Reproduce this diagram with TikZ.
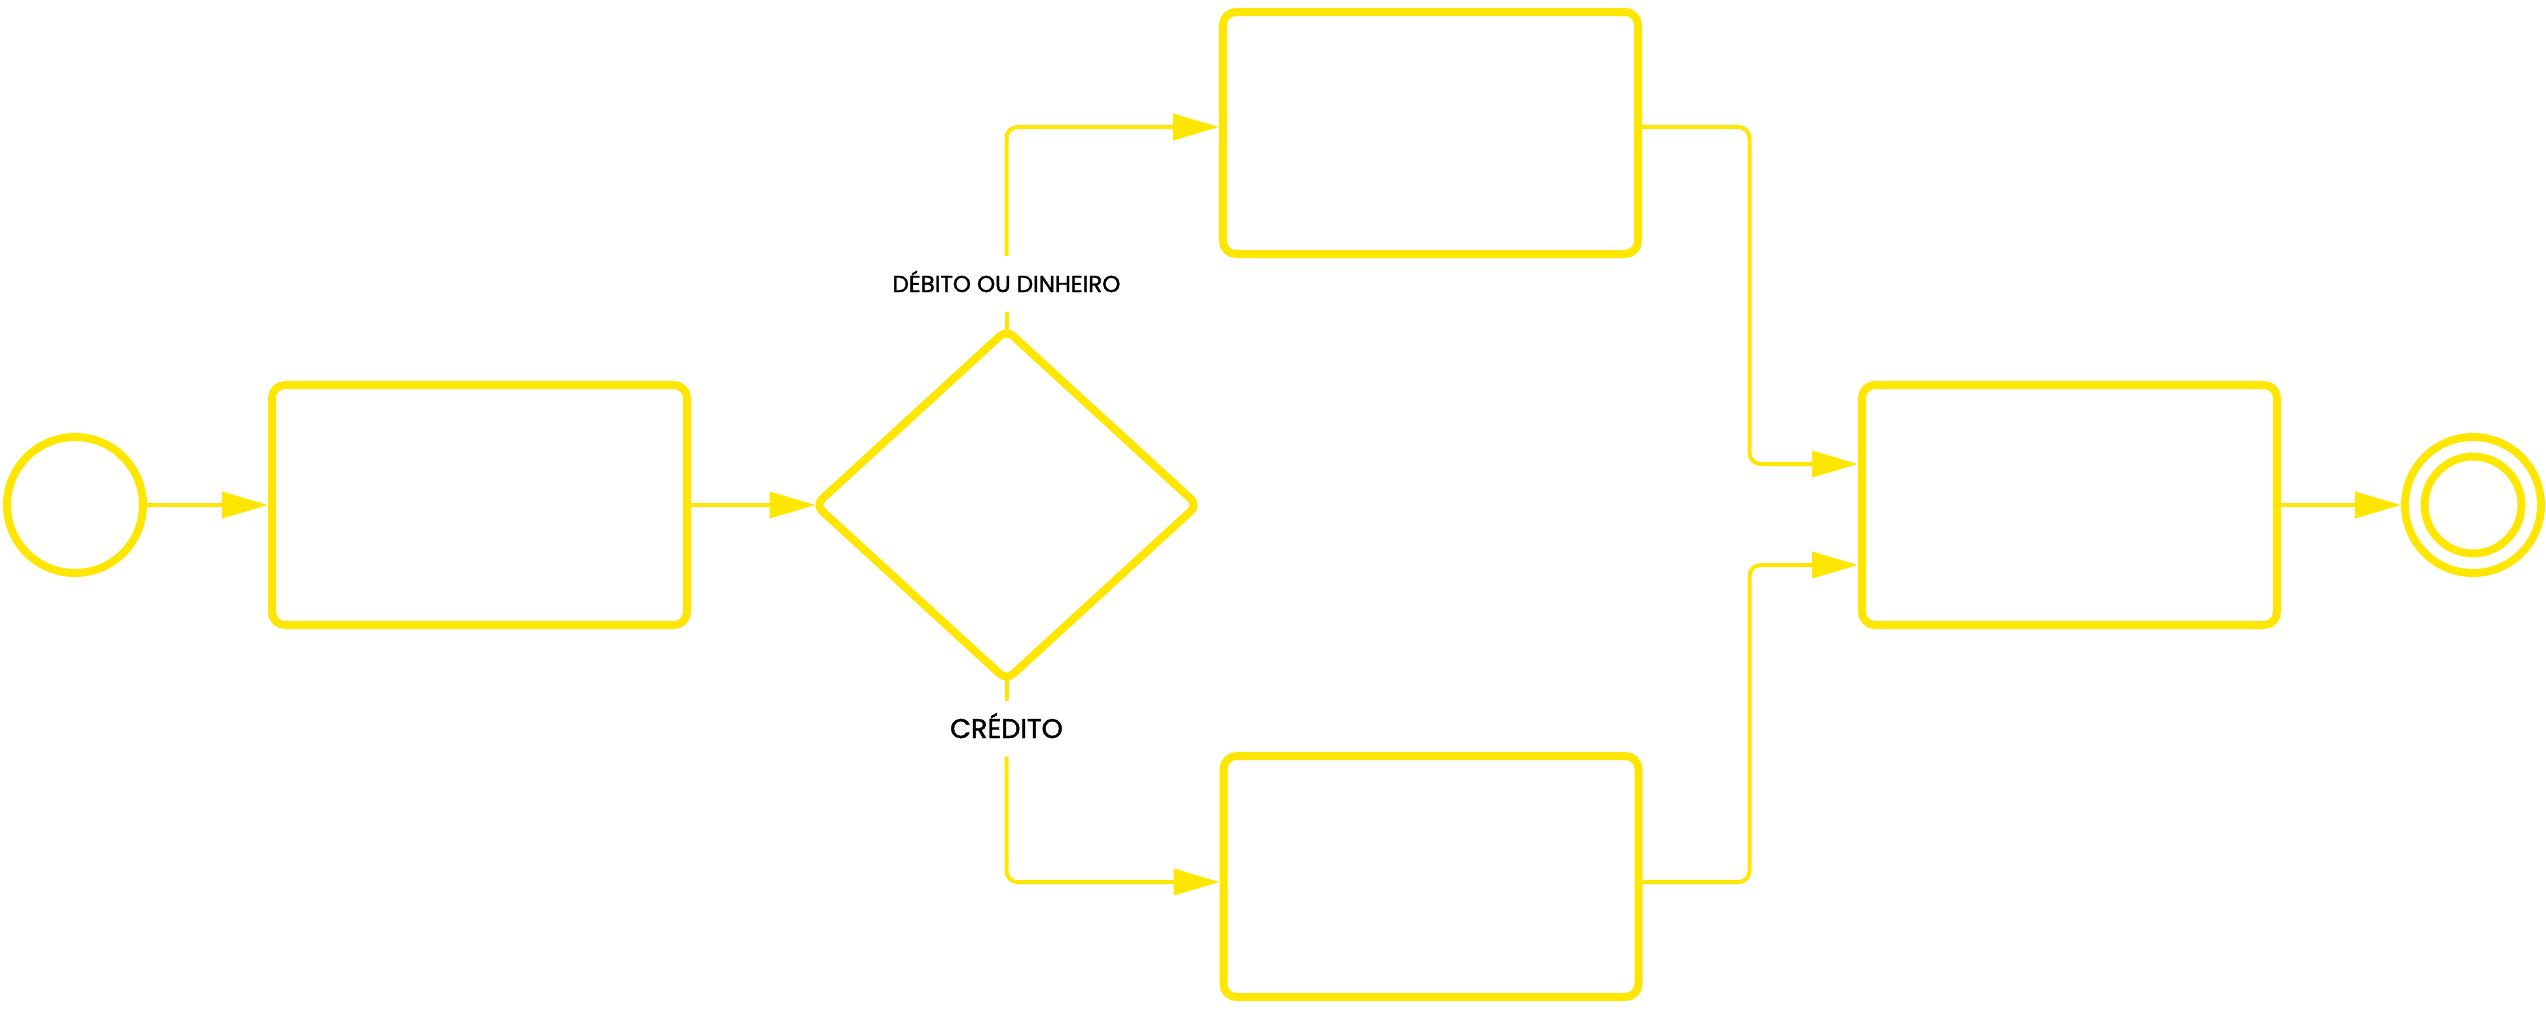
\documentclass[tikz,border=0pt]{standalone}
\usepackage{fontspec}
\newfontfamily\labfont[FakeBold=1.5]{Poppins}
\usetikzlibrary{shapes.geometric,arrows.meta}
\definecolor{bpmnyellow}{RGB}{255,230,0}
\begin{document}
\begin{tikzpicture}[x=1pt,y=-1pt,
  every node/.style={inner sep=0pt},
  event/.style={circle, draw=bpmnyellow, line width=8pt, minimum size=136pt},
  endevent/.style={circle, draw=bpmnyellow, line width=8pt, double=white, double distance=11.5pt, minimum size=116.5pt, outer sep=13.75pt},
  task/.style={rectangle, draw=bpmnyellow, line width=8pt, rounded corners=13pt, minimum width=415pt, minimum height=240pt},
  gateway/.style={diamond, draw=bpmnyellow, line width=8pt, rounded corners=9pt, minimum width=382pt, minimum height=350pt, outer sep=0pt},
  flow/.style={draw=bpmnyellow, line width=4pt, rounded corners=11pt, -{Triangle[length=46pt,width=26pt]}},
  plainflow/.style={draw=bpmnyellow, line width=4pt},
  lab/.style={text=black, inner xsep=4pt, outer sep=0pt}
]
\useasboundingbox (0,0) rectangle (2546,1010);
\fill[white] (0,0) rectangle (2546,1010);

\coordinate (yA) at (0,127);
\coordinate (yB) at (0,882);
\coordinate (yD) at (0,464);
\coordinate (yE) at (0,565);
\coordinate (xC) at (1749.5,0);

\node[event] (start) at (75,505) {};
\node[task] (t1) at (479.5,505) {};
\node[gateway] (gw) at (1006.5,505) {};
\node[task, minimum height=242pt] (t2) at (1430.5,133) {};
\node[task, minimum height=241pt] (t3) at (1431,876.5) {};
\node[task] (t4) at (2069.5,505) {};
\node[endevent] (end) at (2473,505) {};

\node[lab, font=\labfont\fontsize{23}{23}\selectfont, text height=16pt, text depth=0pt, inner ysep=20pt] (l1) at (1006.5,284) {DÉBITO OU DINHEIRO};
\node[lab, font=\labfont\fontsize{27}{27}\selectfont, text height=19pt, text depth=0pt, inner ysep=18.5pt] (l2) at (1006.5,728.5) {CRÉDITO};

\draw[flow] (start) -- (t1);
\draw[flow] (t1) -- (gw);
\draw[plainflow] (gw.north) -- (l1.south);
\draw[flow] (l1.north) -- (l1.north |- yA) -- (t2.west |- yA);
\draw[plainflow] (gw.south) -- (l2.north);
\draw[flow] (l2.south) -- (l2.south |- yB) -- (t3.west |- yB);
\draw[flow] (t2.east |- yA) -- (xC |- yA) -- (xC |- yD) -- (t4.west |- yD);
\draw[flow] (t3.east |- yB) -- (xC |- yB) -- (xC |- yE) -- (t4.west |- yE);
\draw[flow] (t4) -- (end);
\end{tikzpicture}
\end{document}
